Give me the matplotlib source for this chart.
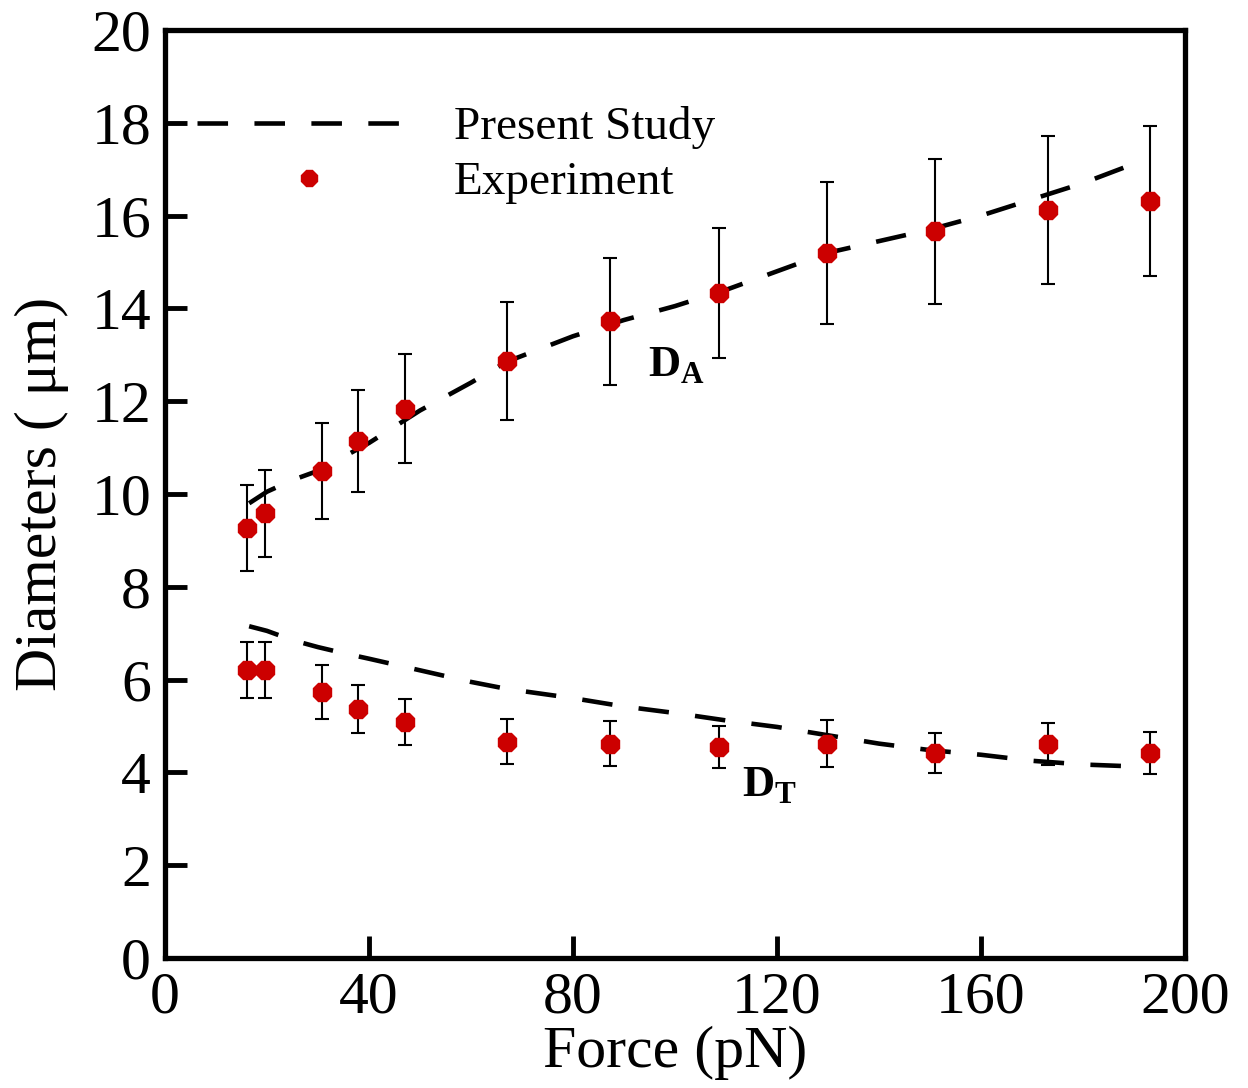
import matplotlib
matplotlib.use("Agg")
import matplotlib.pyplot as plt
from matplotlib.lines import Line2D

plt.rcParams['font.family'] = ['Liberation Serif', 'DejaVu Serif']
plt.rcParams['mathtext.fontset'] = 'custom'
plt.rcParams['mathtext.rm'] = 'Liberation Serif'
plt.rcParams['mathtext.bf'] = 'Liberation Serif:bold'
plt.rcParams['lines.scale_dashes'] = False

# Experimental data
force_exp = [16.1, 19.6, 30.8, 37.8, 47.1, 67.1, 87.3, 108.6, 129.8, 151.0, 173.1, 193.1]
da_exp = [9.26, 9.58, 10.49, 11.15, 11.84, 12.86, 13.72, 14.33, 15.19, 15.66, 16.12, 16.31]
da_err = [0.93, 0.94, 1.03, 1.10, 1.17, 1.27, 1.37, 1.40, 1.53, 1.56, 1.60, 1.62]
dt_exp = [6.21, 6.21, 5.74, 5.37, 5.09, 4.66, 4.62, 4.55, 4.62, 4.42, 4.62, 4.42]
dt_err = [0.60, 0.60, 0.58, 0.52, 0.50, 0.48, 0.48, 0.45, 0.50, 0.43, 0.45, 0.46]

# Present study (model)
force_model = [16.5, 20, 25, 30, 35, 40, 50, 60, 67, 80, 90, 100, 110, 120, 130, 140, 150, 160, 170, 180, 192]
da_model = [9.8, 10.05, 10.3, 10.5, 10.8, 11.1, 11.8, 12.4, 12.85, 13.4, 13.75, 14.05, 14.4, 14.8, 15.2, 15.45, 15.7, 16.0, 16.35, 16.7, 17.2]
dt_model = [7.15, 7.05, 6.85, 6.7, 6.57, 6.45, 6.2, 5.95, 5.8, 5.6, 5.42, 5.28, 5.12, 4.98, 4.8, 4.62, 4.48, 4.38, 4.25, 4.17, 4.12]

xticks = [0, 40, 80, 120, 160, 200]
yticks = [0, 2, 4, 6, 8, 10, 12, 14, 16, 18, 20]

red = '#CC0000'
dash = (0, (22, 19))

fig = plt.figure(figsize=(12.48, 10.88), dpi=100)
ax = fig.add_axes([0.1322, 0.1195, 0.8173, 0.8529])

ax.plot(force_model, da_model, color='black', lw=3.3, linestyle=dash)
ax.plot(force_model, dt_model, color='black', lw=3.3, linestyle=dash)

for yv, ye in ((da_exp, da_err), (dt_exp, dt_err)):
    ax.errorbar(force_exp, yv, yerr=ye, fmt='8', color=red, ms=14,
                mec=red, ecolor='black', elinewidth=1.5, capsize=5, capthick=1.5,
                zorder=3)

ax.set_xlim(0, 200)
ax.set_ylim(0, 20)
ax.set_xticks(xticks)
ax.set_yticks(yticks)
ax.tick_params(direction='in', length=16, width=3.5, labelsize=43, pad=10,
               top=False, right=False)
for s in ax.spines.values():
    s.set_linewidth(3.8)

ax.set_xlabel('Force (pN)', fontsize=43, labelpad=0)
ax.set_ylabel('Diameters ( μm)', fontsize=43, labelpad=16)

ax.text(94.7, 12.53, r'$\mathbf{D}_{\mathbf{A}}$', fontsize=32, ha='left', va='baseline')
ax.text(113.1, 3.47, r'$\mathbf{D}_{\mathbf{T}}$', fontsize=32, ha='left', va='baseline')

h1 = Line2D([], [], color='black', lw=3.3, linestyle=dash)
h2 = Line2D([], [], color=red, marker='8', ms=12, linestyle='none', mec=red)
ax.legend([h1, h2], ['Present Study', 'Experiment'], loc='upper left',
          bbox_to_anchor=(0.031, 0.918), frameon=False, fontsize=34,
          handlelength=4.75, handletextpad=0.7, labelspacing=0.25, borderpad=0,
          borderaxespad=0)

fig.savefig('out.png', dpi=100)
